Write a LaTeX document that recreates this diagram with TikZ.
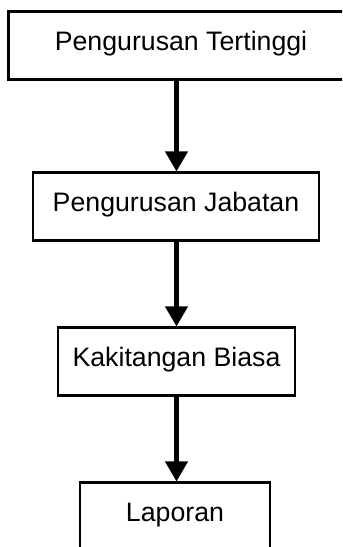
\documentclass[tikz,border=0pt]{standalone}
\usepackage{fontspec}
\setmainfont{Liberation Sans}
\usetikzlibrary{arrows.meta}

\tikzset{
    levelbox/.style={draw, line width=1.2pt, inner sep=0pt, anchor=base,
        text height=0.77cm, text depth=0.59cm,
        font=\fontsize{15.2}{18}\selectfont},
    flow/.style={line width=2.4pt, -{Triangle[length=0.4cm, width=0.44cm]}}
}

\begin{document}
\begin{tikzpicture}
% Page frame (clips the boxes that run off the edge)
\clip (0,0) rectangle (6.84,-10.94);

% Levels, top to bottom
\node[levelbox, minimum width=6.90cm] (tertinggi) at (3.62,-1.00) {Pengurusan Tertinggi};
\node[levelbox, minimum width=5.72cm] (jabatan) at (3.52,-4.22) {Pengurusan Jabatan};
\node[levelbox, minimum width=4.74cm] (biasa) at (3.53,-7.32) {Kakitangan Biasa};
\node[levelbox, minimum width=3.80cm] (laporan) at (3.50,-10.42) {Laporan};

% Downward arrows
\draw[flow] (tertinggi.south -| biasa.south) -- (biasa.south |- jabatan.north);
\draw[flow] (jabatan.south -| biasa.south) -- (biasa.south |- biasa.north);
\draw[flow] (biasa.south) -- (biasa.south |- laporan.north);
\end{tikzpicture}
\end{document}
